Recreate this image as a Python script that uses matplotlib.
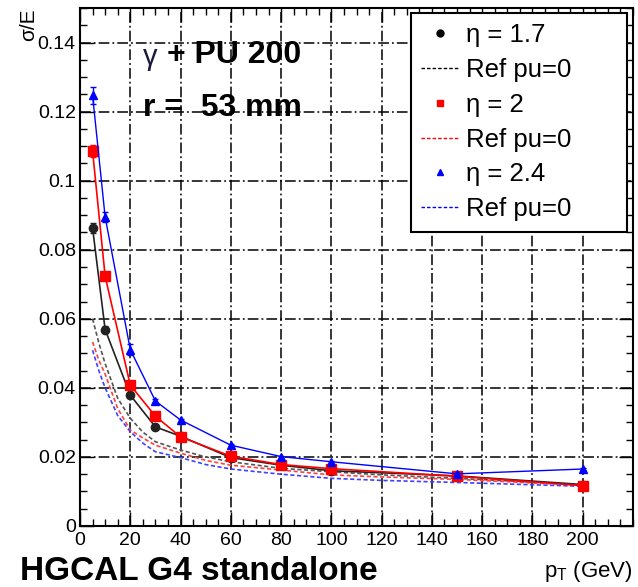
import matplotlib
matplotlib.use("Agg")
import matplotlib.pyplot as plt
from matplotlib.lines import Line2D
from matplotlib import font_manager

# ---------------- data ----------------
pt = [5, 10, 20, 30, 40, 60, 80, 100, 150, 200]

eta17 = [0.0863, 0.0569, 0.0379, 0.0287, 0.0260, 0.0198, 0.0176, 0.0160, 0.0145, 0.0120]
eta17_err = [0.0015, 0.0010, 0.0007, 0.0005, 0.0004, 0.0003, 0.0003, 0.0003, 0.0003, 0.0003]

eta20 = [0.1086, 0.0723, 0.0408, 0.0318, 0.0258, 0.0202, 0.0178, 0.0166, 0.0144, 0.0117]
eta20_err = [0.0018, 0.0012, 0.0007, 0.0005, 0.0004, 0.0003, 0.0003, 0.0003, 0.0003, 0.0003]

eta24 = [0.1247, 0.0895, 0.0511, 0.0362, 0.0307, 0.0234, 0.0201, 0.0186, 0.0151, 0.0165]
eta24_err = [0.0025, 0.0015, 0.0015, 0.0005, 0.0004, 0.0003, 0.0003, 0.0003, 0.0003, 0.0003]

pt_ref = [5, 7.5, 10, 15, 20, 25, 30, 40, 50, 60, 80, 100, 120, 150, 200]
ref17 = [0.0600, 0.0530, 0.0470, 0.0370, 0.0312, 0.0272, 0.0244, 0.0220, 0.0200, 0.0186, 0.0167, 0.0157, 0.0148, 0.0138, 0.0120]
ref20 = [0.0533, 0.0480, 0.0440, 0.0340, 0.0278, 0.0255, 0.0234, 0.0211, 0.0190, 0.0176, 0.0162, 0.0148, 0.0142, 0.0135, 0.0118]
ref24 = [0.0509, 0.0450, 0.0400, 0.0320, 0.0273, 0.0240, 0.0215, 0.0198, 0.0178, 0.0165, 0.0150, 0.0138, 0.0132, 0.0126, 0.0115]

xticks = [0, 20, 40, 60, 80, 100, 120, 140, 160, 180, 200]
yticks = [0, 0.02, 0.04, 0.06, 0.08, 0.1, 0.12, 0.14]
ytick_labels = ["0", "0.02", "0.04", "0.06", "0.08", "0.1", "0.12", "0.14"]

# ---------------- style ----------------
names = {f.name for f in font_manager.fontManager.ttflist}
FONT = "Liberation Sans" if "Liberation Sans" in names else "DejaVu Sans"
NARROW = "Liberation Sans Narrow" if "Liberation Sans Narrow" in names else FONT
plt.rcParams["font.family"] = [FONT, "DejaVu Sans"]
plt.rcParams["mathtext.fontset"] = "custom"
plt.rcParams["mathtext.rm"] = FONT
plt.rcParams["mathtext.it"] = FONT + ":italic"

W, H = 638, 587
fig = plt.figure(figsize=(W / 100, H / 100), dpi=100)
L, R, T, B = 80, 633, 8, 526
ax = fig.add_axes([L / W, (H - B) / H, (R - L) / W, (B - T) / H])

ax.set_xlim(0, 220)
ax.set_ylim(0, 0.15)

# grid
ax.set_axisbelow(True)
ax.grid(True, which="major", color="black", linewidth=1.1,
        linestyle=(0, (7, 2, 1.2, 2)))

# reference curves
DASH = (0, (2.5, 1.5))
ax.plot(pt_ref, ref17, color="#555555", lw=1.2, ls=DASH, zorder=3)
ax.plot(pt_ref, ref20, color="#ff4040", lw=1.2, ls=DASH, zorder=3)
ax.plot(pt_ref, ref24, color="#4040ff", lw=1.2, ls=DASH, zorder=3)

# measured
ax.errorbar(pt, eta17, yerr=eta17_err, color="#222222", marker="o", ms=6,
            lw=1.2, capsize=2, elinewidth=1, zorder=4)
ax.errorbar(pt, eta20, yerr=eta20_err, color="red", marker="s", ms=6.5,
            lw=1.2, capsize=2, elinewidth=1, zorder=5)
ax.errorbar(pt, eta24, yerr=eta24_err, color="blue", marker="^", ms=6,
            lw=1.0, capsize=2, elinewidth=1, zorder=6)

# ticks
ax.set_xticks(xticks)
ax.set_xticks(range(0, 221, 5), minor=True)
ax.set_yticks(yticks)
ax.set_yticklabels(ytick_labels)
ax.set_yticks([i * 0.005 for i in range(31)], minor=True)
ax.tick_params(which="both", direction="in", top=True, right=True, color="black")
ax.tick_params(which="major", length=10, width=1)
ax.tick_params(which="minor", length=5, width=1)
ax.tick_params(axis="y", labelsize=14, pad=3)
ax.tick_params(axis="x", labelsize=14, pad=4)
for lab in ax.get_xticklabels():
    lab.set_family(NARROW)
for sp in ax.spines.values():
    sp.set_linewidth(1.5)

# legend
handles = [
    Line2D([], [], color="black", marker="o", ls="none", ms=5),
    Line2D([], [], color="black", lw=1, ls=DASH),
    Line2D([], [], color="red", marker="s", ls="none", ms=5),
    Line2D([], [], color="red", lw=1, ls=DASH),
    Line2D([], [], color="blue", marker="^", ls="none", ms=5),
    Line2D([], [], color="blue", lw=1, ls=DASH),
]
labels = ["η = 1.7", "Ref pu=0", "η = 2", "Ref pu=0", "η = 2.4", "Ref pu=0"]
lx0 = (411 - L) / (R - L)
lw_ = (627 - 411) / (R - L)
ly1 = (B - 13) / (B - T)
leg = ax.legend(handles, labels, loc="upper left",
                bbox_to_anchor=(lx0, ly1 - 0.5, lw_, 0.5), mode="expand",
                fontsize=18.5, frameon=True, fancybox=False, framealpha=1,
                edgecolor="black", handlelength=1.45, handletextpad=0.3,
                labelspacing=0.42, borderpad=0.4, borderaxespad=0)
leg.get_frame().set_linewidth(1.5)
leg.set_zorder(10)

# texts
fig.text(143 / W, 1 - 57 / H, "γ", fontsize=21, va="center", ha="left",
         color="#1a1a3a")
fig.text(167 / W, 1 - 55 / H, "+ PU 200", fontsize=23,
         fontweight="bold", va="center", ha="left")
fig.text(143 / W, 1 - 108 / H, "r =  53 mm", fontsize=23,
         fontweight="bold", va="center", ha="left")
fig.text(29 / W, 1 - 8 / H, "σ/E", fontsize=15, rotation=90,
         ha="center", va="top")
fig.text(633 / W, 1 - 577 / H, r"p$_{\mathrm{T}}$ (GeV)", fontsize=16,
         ha="right", va="baseline")
fig.text(20 / W, 1 - 580 / H, "HGCAL G4 standalone", fontsize=24,
         fontweight="bold", ha="left", va="baseline")

fig.savefig("out.png", dpi=100, facecolor="white")
